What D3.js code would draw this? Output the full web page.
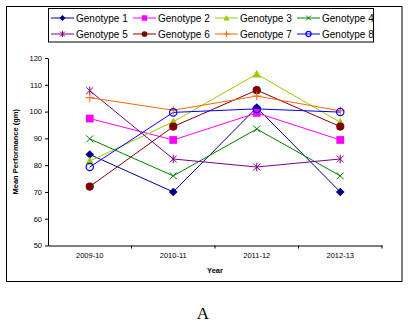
<!DOCTYPE html>
<html><head><meta charset="utf-8">
<script src="https://cdn.jsdelivr.net/npm/d3@7"></script>
<style>body{margin:0;background:#fff}svg{display:block}</style>
</head><body><svg id="c" width="411" height="324"></svg>
<script>
const years = ["2009-10","2010-11","2011-12","2012-13"];
const seriesNames = ["Genotype 1","Genotype 2","Genotype 3","Genotype 4","Genotype 5","Genotype 6","Genotype 7","Genotype 8"];
const g1 = [84, 70, 101.5, 70];
const g2 = [97.4, 89.4, 99.5, 89.4];
const g3 = [81.5, 96.2, 114, 96];
const g4 = [89.8, 76, 93.5, 76];
const g5 = [107.8, 82.3, 79.3, 82.3];
const g6 = [72, 94.4, 108, 94.4];
const g7 = [105.2, 100.5, 105.8, 100.3];
const g8 = [79.3, 99.7, 101, 99.8];
const yTicks = [50,60,70,80,90,100,110,120];
const colors = ["#000080","#FF00FF","#99CC00","#008000","#800080","#800000","#FF6600","#0000FF"];
const markers = ["diamond","square","triangle","x","star","circle","plus","ocircle"];
const allSeries = [g1,g2,g3,g4,g5,g6,g7,g8];

const svg = d3.select("#c");
const font = "Liberation Sans, Arial, sans-serif";
svg.append("rect").attr("x",6.5).attr("y",6.5).attr("width",395.5).attr("height",275).attr("fill","none").attr("stroke","#000").attr("stroke-width",1);

const pL=48, pR=382, pT=58, pB=245.5;
const x = d3.scaleBand().domain(years).range([pL,pR]);
const y = d3.scaleLinear().domain([50,120]).range([pB,pT]);

const ya = svg.append("g").attr("transform",`translate(${pL},0)`)
  .call(d3.axisLeft(y).tickValues(yTicks).tickSize(3).tickSizeOuter(0));
ya.select(".domain").attr("stroke","#000");
ya.selectAll("text").attr("font-family",font).attr("font-size",7.5).attr("fill","#000").attr("x",-6);
const xa = svg.append("g").attr("transform",`translate(0,${pB})`)
  .call(d3.axisBottom(x).tickSize(0).tickSizeOuter(0));
xa.select(".domain").attr("stroke","#000");
xa.selectAll("text").attr("font-family",font).attr("font-size",7.5).attr("fill","#000").attr("dy","1.3em");
xa.selectAll("line.b").data(years).enter().append("line").attr("class","b")
  .attr("x1",(d,i)=>x(d)+x.step()).attr("x2",(d,i)=>x(d)+x.step())
  .attr("y1",0).attr("y2",3).attr("stroke","#000");

svg.append("text").attr("x",(pL+pR)/2).attr("y",273).attr("text-anchor","middle")
  .attr("font-family",font).attr("font-size",7.5).attr("font-weight","bold").text("Year");
svg.append("text").attr("transform",`translate(18,${(pT+pB)/2}) rotate(-90)`).attr("text-anchor","middle")
  .attr("font-family",font).attr("font-size",7.5).attr("font-weight","bold").text("Mean Performance (gm)");

function drawMarker(g, type, color, cx, cy, s) {
  const m = g.append("g").attr("transform",`translate(${cx},${cy})`);
  switch(type){
    case "diamond": m.append("path").attr("d",`M0,${-s}L${s},0L0,${s}L${-s},0Z`).attr("fill",color); break;
    case "square": m.append("rect").attr("x",-s*0.9).attr("y",-s*0.9).attr("width",s*1.8).attr("height",s*1.8).attr("fill",color); break;
    case "triangle": m.append("path").attr("d",`M0,${-s}L${s},${s*0.8}L${-s},${s*0.8}Z`).attr("fill",color); break;
    case "x": m.append("path").attr("d",`M${-s*0.8},${-s*0.8}L${s*0.8},${s*0.8}M${-s*0.8},${s*0.8}L${s*0.8},${-s*0.8}`).attr("stroke",color).attr("stroke-width",1); break;
    case "star": m.append("path").attr("d",`M${-s*0.8},${-s*0.8}L${s*0.8},${s*0.8}M${-s*0.8},${s*0.8}L${s*0.8},${-s*0.8}M0,${-s}L0,${s}`).attr("stroke",color).attr("stroke-width",1); break;
    case "circle": m.append("circle").attr("r",s*0.95).attr("fill",color); break;
    case "plus": m.append("path").attr("d",`M${-s},0L${s},0M0,${-s}L0,${s}`).attr("stroke",color).attr("stroke-width",1); break;
    case "ocircle": m.append("circle").attr("r",s*0.85).attr("fill","none").attr("stroke",color).attr("stroke-width",1.2); break;
  }
}

const line = d3.line().x((d,i)=>x(years[i])+x.bandwidth()/2).y(d=>y(d));
allSeries.forEach((vals,k)=>{
  svg.append("path").attr("d",line(vals)).attr("fill","none").attr("stroke",colors[k]).attr("stroke-width",1);
});
allSeries.forEach((vals,k)=>{
  vals.forEach((v,i)=>drawMarker(svg, markers[k], colors[k], x(years[i])+x.bandwidth()/2, y(v), 4.3));
});

svg.append("rect").attr("x",48.5).attr("y",8.5).attr("width",325).attr("height",33.5).attr("fill","#fff").attr("stroke","#000").attr("stroke-width",1);
seriesNames.forEach((n,k)=>{
  const col = k%4, row = Math.floor(k/4);
  const lx = 51 + col*82, ly = 18 + row*16;
  svg.append("line").attr("x1",lx).attr("x2",lx+23).attr("y1",ly).attr("y2",ly).attr("stroke",colors[k]).attr("stroke-width",1);
  drawMarker(svg, markers[k], colors[k], lx+11.5, ly, 3);
  svg.append("text").attr("x",lx+25).attr("y",ly+3.7).attr("font-family",font).attr("font-size",10).attr("fill","#000").text(n);
});

svg.append("text").attr("x",203).attr("y",319).attr("text-anchor","middle").attr("font-family","Liberation Serif, Times New Roman, serif").attr("font-size",17).attr("fill","#000").text("A");
</script></body></html>
